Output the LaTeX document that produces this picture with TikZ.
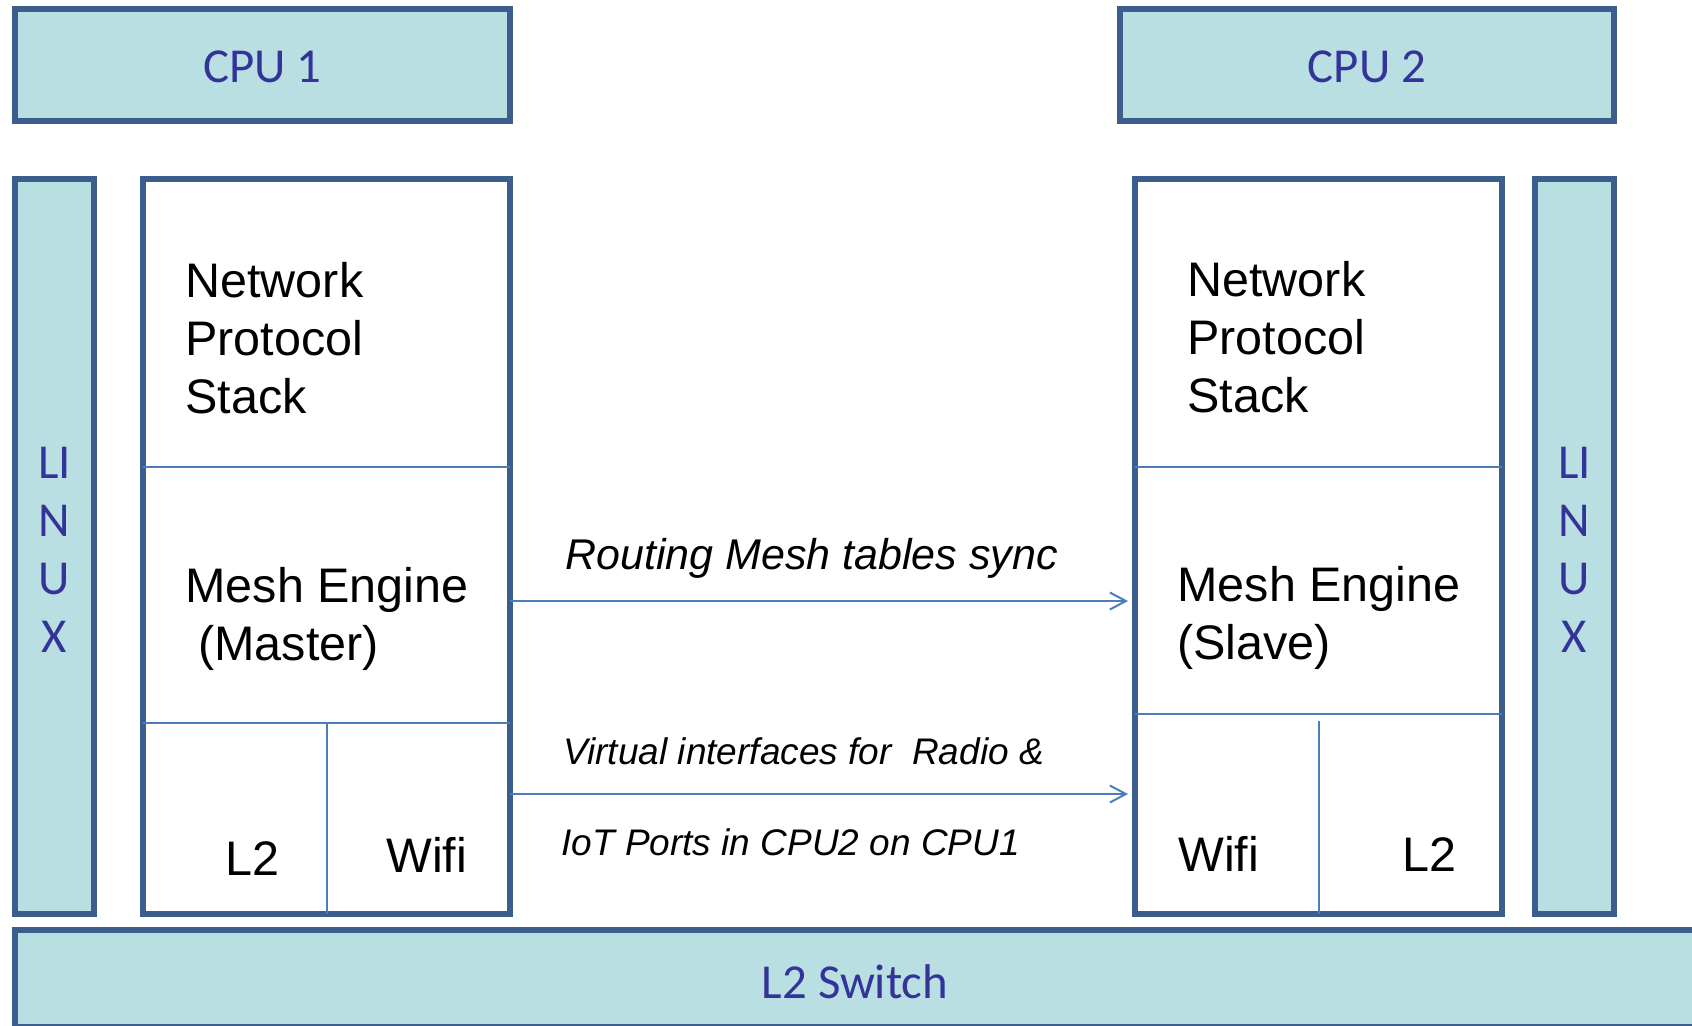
\documentclass[tikz,border=0pt]{standalone}
\usepackage{fontspec}
\setmainfont{Liberation Sans}
\newfontfamily\calfont{Carlito}
\usetikzlibrary{arrows.meta,fit}
\definecolor{boxfill}{HTML}{B9DFE3}
\definecolor{boxedge}{HTML}{3B5E8C}
\definecolor{thinline}{HTML}{4A7EBB}
\definecolor{labelblue}{HTML}{333399}
\tikzset{
  bluebox/.style={draw=boxedge, fill=boxfill, line width=2.6pt, inner sep=0pt, outer sep=0pt},
  bluetext/.style={inner sep=0pt, font=\calfont\fontsize{24.4}{29}\selectfont, text=labelblue, align=center},
  stackbox/.style={draw=boxedge, fill=white, line width=2.6pt, inner sep=0pt, outer sep=0pt},
  divider/.style={draw=thinline, line width=1pt},
  link/.style={draw=thinline, line width=1pt, -{Straight Barb[length=8pt,width=8.5pt]}, shorten >=3.5pt},
  body/.style={inner sep=0pt, anchor=base west, font=\fontsize{24.25}{29}\selectfont},
  biglabel/.style={inner sep=0pt, anchor=base west, font=\itshape\fontsize{21.5}{26}\selectfont},
  smalllabel/.style={inner sep=0pt, anchor=base west, font=\itshape\fontsize{18.5}{22}\selectfont},
}
\begin{document}
\begin{tikzpicture}[x=0.5pt,y=-0.5pt]
  \clip (0,0) rectangle (1692,1025);
  \fill[white] (0,0) rectangle (1692,1025);

  % processor headers
  \node[bluebox, fit={(15,9) (510,121)}] (cpu1) {};
  \node[bluebox, fit={(1120,9) (1614,121)}] (cpu2) {};
  \node[bluetext, yshift=-1pt] (cpu1lbl) at (cpu1.center) {CPU 1};
  \node[bluetext, yshift=-1pt] (cpu2lbl) at (cpu2.center) {CPU 2};

  % operating system bars
  \node[bluebox, fit={(15,179) (94,914)}] (linuxl) {};
  \node[bluebox, fit={(1535,179) (1614,914)}] (linuxr) {};
  \node[bluetext, yshift=-1.5pt] (linuxllbl) at (linuxl.center) {LI\\N\\U\\X};
  \node[bluetext, yshift=-1.5pt] (linuxrlbl) at (linuxr.center) {LI\\N\\U\\X};

  % software stacks
  \node[stackbox, fit={(143,179) (510,914)}] (lstack) {};
  \node[stackbox, fit={(1135,179) (1502,914)}] (rstack) {};

  % layer dividers, left stack
  \draw[divider] (lstack.west |- 0,467) -- (lstack.east |- 0,467);
  \draw[divider] (lstack.west |- 0,723) -- (lstack.east |- 0,723);
  \draw[divider] (327,723) -- (lstack.south -| 327,0);

  % layer dividers, right stack
  \draw[divider] (rstack.west |- 0,467) -- (rstack.east |- 0,467);
  \draw[divider] (rstack.west |- 0,714) -- (rstack.east |- 0,714);
  \draw[divider] (1319,721) -- (rstack.south -| 1319,0);

  % switch along the bottom
  \node[bluebox, fit={(15,930) (1720,1027)}] (switch) {};
  \node[bluetext, anchor=base] (switchlbl) at (855,998) {L2 Switch};

  % left stack labels
  \node[body] (lnet1) at (185,297) {Network};
  \node[body] (lnet2) at (185,355) {Protocol};
  \node[body] (lnet3) at (185,413) {Stack};
  \node[body] (lmesh1) at (185,602) {Mesh Engine};
  \node[body] (lmesh2) at (198,660) {(Master)};
  \node[body] (ll2) at (225,875) {L2};
  \node[body] (lwifi) at (386,872) {Wifi};

  % right stack labels
  \node[body] (rnet1) at (1187,296) {Network};
  \node[body] (rnet2) at (1187,354) {Protocol};
  \node[body] (rnet3) at (1187,412) {Stack};
  \node[body] (rmesh1) at (1177,601) {Mesh Engine};
  \node[body] (rmesh2) at (1177,659) {(Slave)};
  \node[body] (rwifi) at (1178,871) {Wifi};
  \node[body] (rl2) at (1402,871) {L2};

  % links between the stacks
  \draw[link] (lstack.east |- 0,601) -- (rstack.west |- 0,601);
  \draw[link] (lstack.east |- 0,794) -- (rstack.west |- 0,794);

  \node[biglabel] (synclbl) at (565,569) {Routing Mesh tables sync};
  \node[smalllabel] (virtlbl1) at (563,764) {Virtual interfaces for\ \ Radio \&};
  \node[smalllabel] (virtlbl2) at (561,855) {IoT Ports in CPU2 on CPU1};
\end{tikzpicture}
\end{document}
